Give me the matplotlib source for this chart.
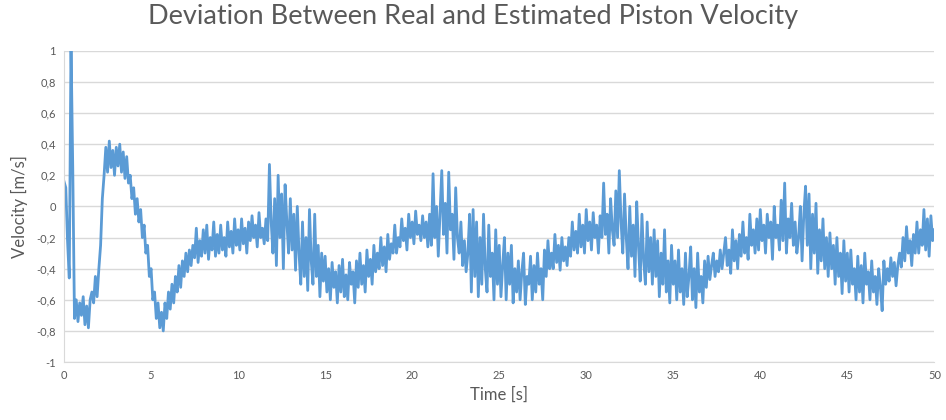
# Piston velocity deviation (real - estimated) over time

import matplotlib.pyplot as plt
import numpy as np

dt = 0.1    # sample step [s]

# Velocity deviation [m/s], one row per second of record
v = [
    [0.16, 0.12, -0.22, -0.46, 1.05, 0.25, -0.72, -0.6, -0.74, -0.62],
    [-0.7, -0.58, -0.76, -0.64, -0.78, -0.6, -0.55, -0.62, -0.45, -0.58],
    [-0.4, -0.25, 0.05, 0.2, 0.38, 0.22, 0.42, 0.25, 0.36, 0.2],
    [0.38, 0.26, 0.4, 0.22, 0.35, 0.18, 0.32, 0.15, 0.2, 0.05],
    [0.12, -0.05, 0.05, -0.1, -0.02, -0.2, -0.12, -0.3, -0.25, -0.45],
    [-0.4, -0.6, -0.55, -0.72, -0.62, -0.78, -0.68, -0.8, -0.62, -0.72],
    [-0.55, -0.66, -0.5, -0.62, -0.45, -0.55, -0.38, -0.52, -0.35, -0.45],
    [-0.3, -0.42, -0.28, -0.38, -0.25, -0.33, -0.14, -0.36, -0.22, -0.32],
    [-0.15, -0.3, -0.12, -0.34, -0.2, -0.28, -0.1, -0.32, -0.18, -0.3],
    [-0.12, -0.28, -0.2, -0.32, -0.1, -0.26, -0.16, -0.3, -0.08, -0.25],
    [-0.15, -0.28, -0.08, -0.24, -0.14, -0.3, -0.1, -0.22, -0.06, -0.2],
    [-0.12, -0.26, -0.04, -0.2, -0.14, -0.24, -0.08, -0.22, 0.27, -0.1],
    [-0.3, 0.05, -0.38, 0.2, -0.2, 0.08, -0.4, 0.14, -0.1, -0.3],
    [0.05, -0.28, -0.05, -0.41, 0.0, -0.3, -0.5, -0.1, -0.45, -0.2],
    [-0.54, -0.02, -0.35, -0.5, -0.05, -0.45, -0.25, -0.58, -0.3, -0.48],
    [-0.32, -0.55, -0.4, -0.6, -0.36, -0.52, -0.42, -0.62, -0.38, -0.55],
    [-0.34, -0.58, -0.44, -0.6, -0.36, -0.5, -0.42, -0.62, -0.35, -0.52],
    [-0.3, -0.5, -0.38, -0.55, -0.28, -0.45, -0.34, -0.5, -0.25, -0.42],
    [-0.3, -0.4, -0.2, -0.38, -0.26, -0.42, -0.18, -0.34, -0.24, -0.3],
    [-0.12, -0.3, -0.2, -0.26, -0.08, -0.22, -0.14, -0.28, -0.05, -0.2],
    [-0.1, -0.24, -0.03, -0.18, -0.12, -0.22, -0.06, -0.2, -0.1, -0.26],
    [-0.05, -0.25, 0.21, -0.2, 0.0, -0.32, -0.05, 0.23, -0.18, 0.02],
    [-0.3, 0.22, -0.15, -0.05, -0.34, 0.12, -0.2, -0.3, -0.1, -0.38],
    [-0.22, -0.42, -0.3, -0.05, -0.55, -0.02, -0.45, -0.1, -0.58, -0.2],
    [-0.5, -0.05, -0.4, -0.55, -0.12, -0.45, -0.3, -0.6, -0.15, -0.5],
    [-0.25, -0.58, -0.38, -0.2, -0.6, -0.3, -0.5, -0.25, -0.62, -0.4],
    [-0.55, -0.35, -0.6, -0.42, -0.3, -0.63, -0.45, -0.5, -0.32, -0.6],
    [-0.38, -0.55, -0.3, -0.5, -0.4, -0.6, -0.28, -0.45, -0.22, -0.4],
    [-0.3, -0.4, -0.18, -0.36, -0.25, -0.41, -0.2, -0.35, -0.26, -0.38],
    [-0.2, -0.32, -0.1, -0.28, -0.16, -0.3, -0.05, -0.26, -0.12, -0.3],
    [-0.02, -0.22, -0.1, -0.28, -0.04, -0.2, -0.12, -0.3, -0.06, -0.2],
    [0.15, -0.18, -0.05, -0.3, 0.05, -0.15, -0.25, 0.1, -0.2, 0.23],
    [-0.1, -0.3, 0.08, -0.2, -0.4, 0.0, -0.32, -0.12, -0.45, 0.03],
    [-0.25, -0.48, -0.05, -0.35, -0.5, -0.1, -0.42, -0.2, -0.5, -0.15],
    [-0.45, -0.22, -0.58, -0.3, -0.5, -0.15, -0.55, -0.35, -0.62, -0.25],
    [-0.5, -0.35, -0.6, -0.28, -0.55, -0.4, -0.63, -0.3, -0.58, -0.45],
    [-0.26, -0.6, -0.4, -0.65, -0.3, -0.55, -0.45, -0.62, -0.35, -0.52],
    [-0.32, -0.47, -0.38, -0.3, -0.45, -0.35, -0.42, -0.28, -0.4, -0.3],
    [-0.2, -0.38, -0.28, -0.43, -0.15, -0.35, -0.22, -0.4, -0.18, -0.32],
    [-0.1, -0.3, -0.2, -0.34, -0.05, -0.25, -0.15, -0.3, -0.08, -0.28],
    [-0.02, -0.22, -0.12, -0.3, -0.05, -0.2, -0.1, -0.34, 0.0, -0.2],
    [-0.12, -0.28, 0.04, -0.22, 0.15, -0.3, -0.08, -0.2, 0.02, -0.25],
    [-0.1, -0.3, -0.2, 0.0, -0.35, -0.05, 0.13, -0.25, 0.08, -0.4],
    [-0.05, -0.3, 0.02, -0.43, -0.15, -0.35, -0.08, -0.4, -0.2, -0.45],
    [-0.17, -0.4, -0.25, -0.5, -0.2, -0.45, -0.3, -0.56, -0.22, -0.48],
    [-0.3, -0.55, -0.28, -0.5, -0.4, -0.6, -0.32, -0.55, -0.38, -0.62],
    [-0.3, -0.5, -0.42, -0.6, -0.35, -0.55, -0.45, -0.63, -0.4, -0.52],
    [-0.67, -0.35, -0.5, -0.4, -0.48, -0.33, -0.45, -0.36, -0.51, -0.38],
    [-0.3, -0.39, -0.2, -0.35, -0.13, -0.3, -0.22, -0.38, -0.18, -0.3],
    [-0.1, -0.3, -0.15, -0.25, -0.02, -0.28, -0.08, -0.32, -0.06, -0.22],
    [-0.15],
]

xticks = [0, 5, 10, 15, 20, 25, 30, 35, 40, 45, 50]
yticks = [-1, -0.8, -0.6, -0.4, -0.2, 0, 0.2, 0.4, 0.6, 0.8, 1]

vel = np.concatenate([np.array(r) for r in v])
t = np.arange(len(vel)) * dt

plt.rcParams['font.family'] = ['Lato', 'DejaVu Sans']
grey = "#595959"

fig = plt.figure(figsize=(9.46, 4.2), dpi=100)
ax = fig.add_axes([0.0677, 0.138, 0.920, 0.741])

ax.plot(t, vel, color="#5b9bd5", linewidth=2.0)

ax.set_xlim(0, 50)
ax.set_ylim(-1, 1)
ax.set_xticks(xticks)
ax.set_yticks(yticks)
ax.set_xticklabels([str(x) for x in xticks])
ax.set_yticklabels([f"{y:g}".replace(".", ",") for y in yticks])
ax.tick_params(length=0, labelsize=8, labelcolor=grey, pad=6)

ax.grid(axis="y", color="#d9d9d9", linewidth=1)
ax.set_axisbelow(True)
for s in ["top", "right"]:
    ax.spines[s].set_visible(False)
ax.spines["bottom"].set_color("#d9d9d9")
ax.spines["left"].set_color("#d9d9d9")

ax.set_xlabel("Time [s]", fontsize=12, color=grey, labelpad=4)
ax.set_ylabel("Velocity [m/s]", fontsize=12, color=grey, labelpad=6)
fig.suptitle("Deviation Between Real and Estimated Piston Velocity",
             fontsize=19.5, color=grey, x=0.5, y=0.99)

fig.savefig("out.png", dpi=100)
